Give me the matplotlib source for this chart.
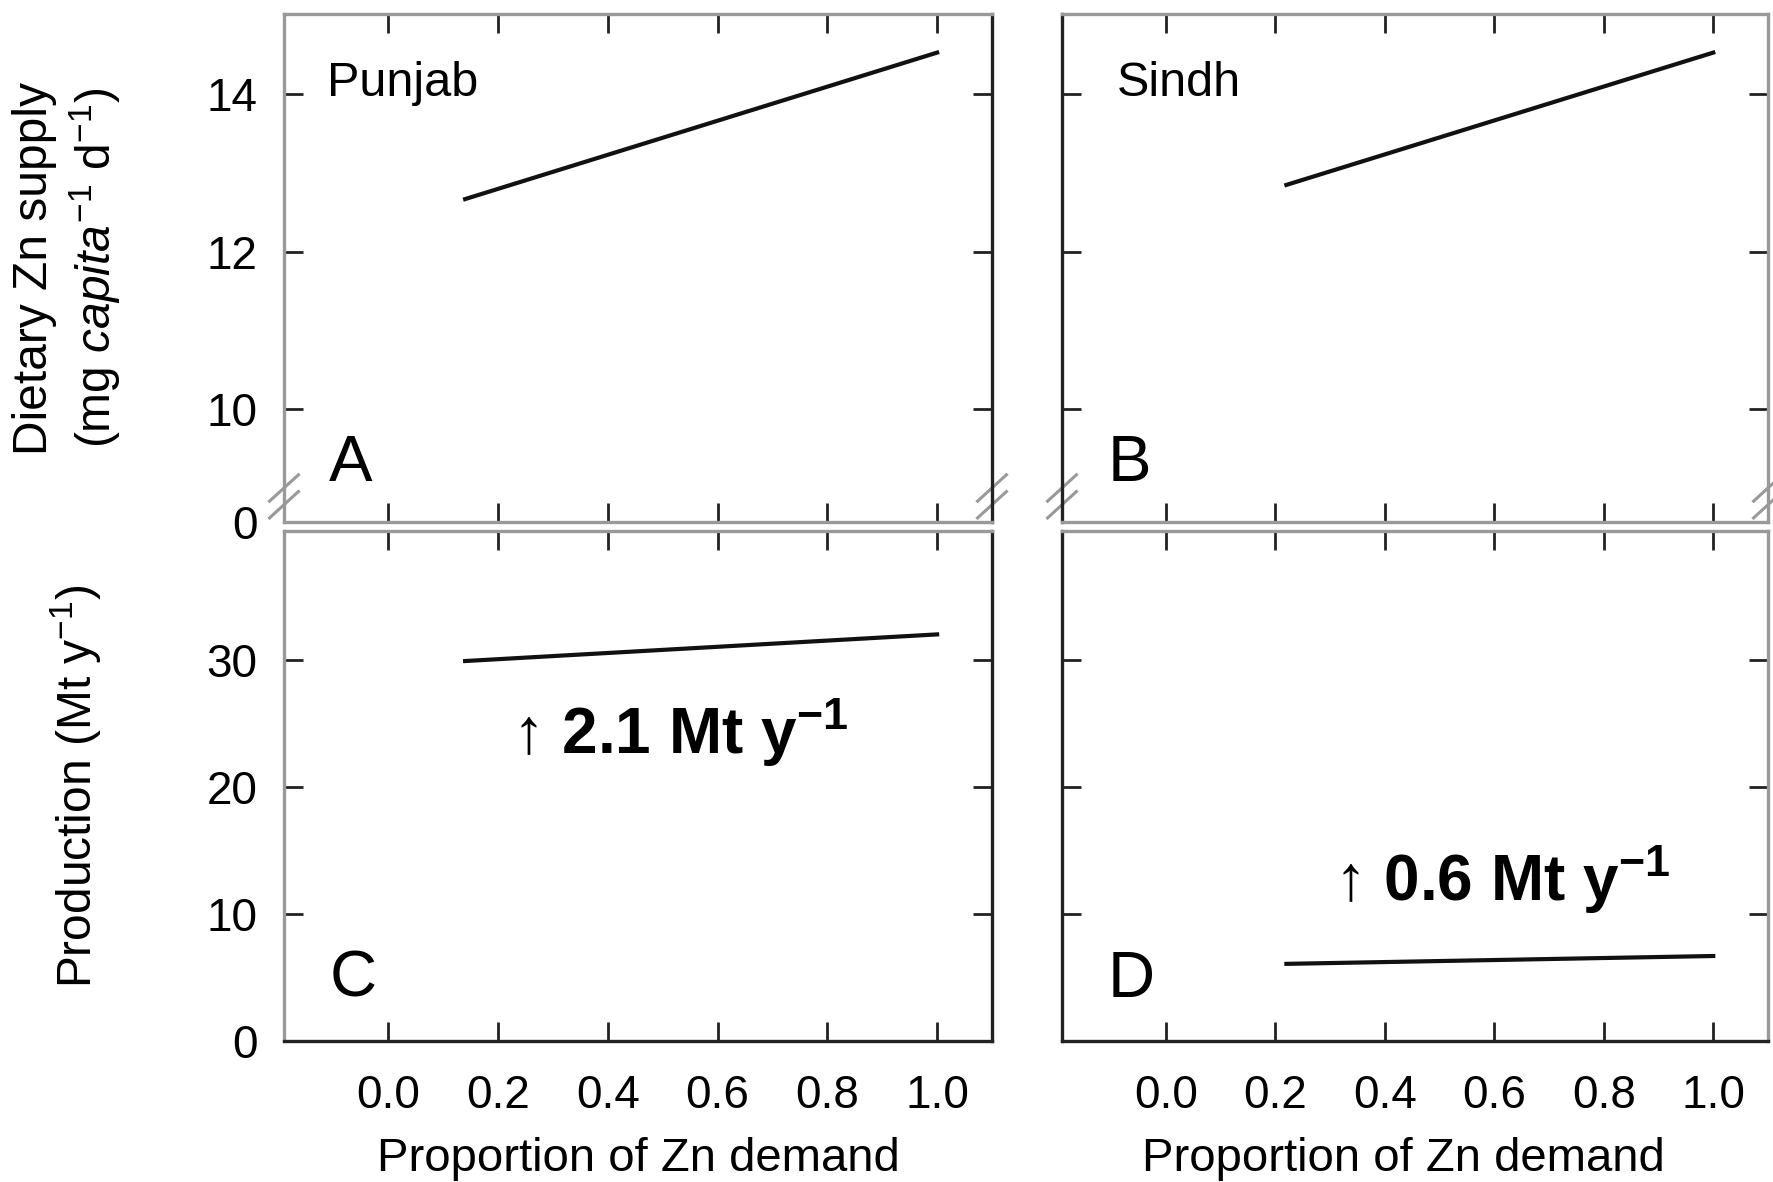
import matplotlib
matplotlib.use("Agg")
from matplotlib import pyplot as plt

plt.rcParams['font.family'] = ['Liberation Sans', 'DejaVu Sans']
plt.rcParams['mathtext.fontset'] = 'custom'
plt.rcParams['mathtext.rm'] = 'Liberation Sans'
plt.rcParams['mathtext.it'] = 'Liberation Sans:italic'
plt.rcParams['mathtext.bf'] = 'Liberation Sans:bold'

# data
x_punjab = [0.14, 1.0]
zn_punjab = [12.67, 14.53]
prod_punjab = [29.95, 32.05]

x_sindh = [0.22, 1.0]
zn_sindh = [12.85, 14.53]
prod_sindh = [6.08, 6.70]

regions = ['Punjab', 'Sindh']
panel_letters = ['A', 'B', 'C', 'D']
gains = ['2.1', '0.6']

xticks = [0.0, 0.2, 0.4, 0.6, 0.8, 1.0]
zn_ticks = [10, 12, 14]
prod_ticks = [0, 10, 20, 30]

XLIM = (-0.19, 1.10)
ZN_LIM = (8.57, 15.02)
PROD_LIM = (0, 40.2)

GRAY = '#999999'
DARK = '#222222'

fig = plt.figure(figsize=(17.73, 11.82), dpi=100)

W, H = 1773, 1182
def box(x0, x1, ytop, ybot):
    return [x0 / W, 1 - ybot / H, (x1 - x0) / W, (ybot - ytop) / H]

axA = fig.add_axes(box(284, 992, 14, 522))
axB = fig.add_axes(box(1062, 1768, 14, 522))
axC = fig.add_axes(box(284, 992, 531, 1041))
axD = fig.add_axes(box(1062, 1768, 531, 1041))
axes = [axA, axB, axC, axD]

# spine colours as they appear in the reference
spine_cols = [
    dict(left=GRAY, top=GRAY, bottom=GRAY, right=DARK),
    dict(left=DARK, top=GRAY, bottom=GRAY, right=GRAY),
    dict(left=GRAY, top=GRAY, bottom=DARK, right=DARK),
    dict(left=DARK, top=GRAY, bottom=DARK, right=GRAY),
]

for ax, cols in zip(axes, spine_cols):
    for side, c in cols.items():
        ax.spines[side].set_color(c)
        ax.spines[side].set_linewidth(2.4)
    ax.set_xlim(XLIM)
    ax.set_xticks(xticks)
    ax.tick_params(direction='in', length=14, width=2, color=DARK,
                   top=True, right=True, labelsize=33)
    ax.tick_params(axis='x', pad=24)
    ax.tick_params(axis='y', pad=19)

axA.plot(x_punjab, zn_punjab, color='#111111', lw=3)
axB.plot(x_sindh, zn_sindh, color='#111111', lw=3)
axC.plot(x_punjab, prod_punjab, color='#111111', lw=3)
axD.plot(x_sindh, prod_sindh, color='#111111', lw=3)

for ax in [axA, axB]:
    ax.set_ylim(ZN_LIM)
    ax.set_yticks([ZN_LIM[0]] + zn_ticks)
    ax.set_yticklabels(['0'] + [str(t) for t in zn_ticks])
    ax.tick_params(labelbottom=False)
    # axis-break marks at the lower corners
    for xc in [0.0, 1.0]:
        for yc in [0.067, 0.034]:
            ax.plot([xc - 0.022, xc + 0.022], [yc - 0.028, yc + 0.028],
                    transform=ax.transAxes, color=GRAY, lw=2.2,
                    clip_on=False, solid_capstyle='butt')

for ax in [axC, axD]:
    ax.set_ylim(PROD_LIM)
    ax.set_yticks(prod_ticks)
    ax.set_xticklabels(['%.1f' % t for t in xticks])

for ax in [axB, axD]:
    ax.tick_params(labelleft=False)

axA.text(0.061, 0.864, regions[0], transform=axA.transAxes, fontsize=35,
         va='center', ha='left')
axB.text(0.078, 0.864, regions[1], transform=axB.transAxes, fontsize=35,
         va='center', ha='left')

for ax, letter in zip(axes, panel_letters):
    yl = 0.114 if ax in (axA, axB) else 0.12
    ax.text(0.064, yl, letter, transform=ax.transAxes, fontsize=47,
            va='center', ha='left')

axC.text(0.322, 0.604, '\u2191 ' + gains[0] + r' Mt y$^{\mathbf{-1}}$',
         transform=axC.transAxes, fontsize=46, fontweight='bold',
         va='center', ha='left')
axD.text(0.385, 0.316, '\u2191 ' + gains[1] + r' Mt y$^{\mathbf{-1}}$',
         transform=axD.transAxes, fontsize=46, fontweight='bold',
         va='center', ha='left')

fig.text(0.0192, 0.773, 'Dietary Zn supply', rotation=90, fontsize=34.5,
         ha='center', va='center')
fig.text(0.054, 0.773, r'(mg $\mathit{capita}^{-1}$ d$^{-1}$)', rotation=90,
         fontsize=34.5, ha='center', va='center')
fig.text(0.0428, 0.335, r'Production (Mt y$^{-1}$)', rotation=90,
         fontsize=34.5, ha='center', va='center')

fig.text(638 / W, 1 - 1159 / H, 'Proportion of Zn demand', fontsize=34,
         ha='center', va='center')
fig.text(1403 / W, 1 - 1159 / H, 'Proportion of Zn demand', fontsize=34,
         ha='center', va='center')

fig.savefig('out.png', dpi=100)
